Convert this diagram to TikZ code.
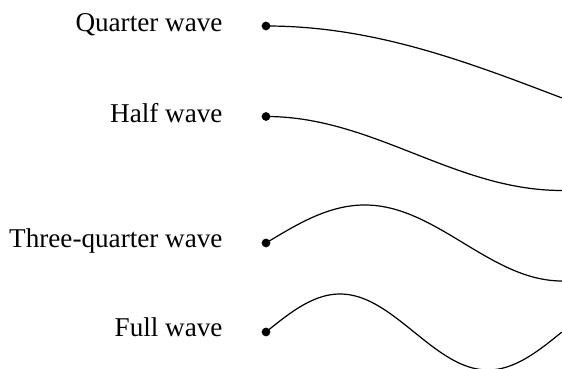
\documentclass[tikz,border=0pt]{standalone}
\usepackage{fontspec}
\setmainfont{Liberation Serif}
\usetikzlibrary{positioning}

\begin{document}
\begin{tikzpicture}[x=0.0145cm,y=-0.0145cm,
      every node/.style={font=\fontsize{11.2}{13}\selectfont},
      lbl/.style={anchor=base east,inner sep=0pt},
      wave/.style={line width=0.5pt,samples=80,smooth},
      end dot/.style={circle,fill,inner sep=0pt,minimum size=3.6pt}]
    \useasboundingbox (0,0) rectangle (562,369);
    % ends of the lines
    \node[end dot] (qd) at (266,26)    {};
    \node[end dot] (hd) at (266,116.5) {};
    \node[end dot] (td) at (266,243)   {};
    \node[end dot] (fd) at (266,332)   {};
    % names
    \node[lbl] (ql) at (223,32)  {Quarter wave};
    \node[lbl] (hl) at (223,123) {Half wave};
    \node[lbl] (tl) at (223,248) {Three-quarter wave};
    \node[lbl] (fl) at (223,337) {Full wave};
    % the waves
    \draw[wave] plot[domain=0:1] ({266+296*\x},{26+72*(1-cos(90*\x))});
    \draw[wave] plot[domain=0:1] ({266+296*\x},{116.5+37*(1-cos(180*\x))});
    \draw[wave] plot[domain=0:1] ({266+296*\x},{243-38*sin(270*\x)});
    \draw[wave] plot[domain=0:1] ({266+296*\x},{332-38*sin(360*\x)});
  \end{tikzpicture}
\end{document}
